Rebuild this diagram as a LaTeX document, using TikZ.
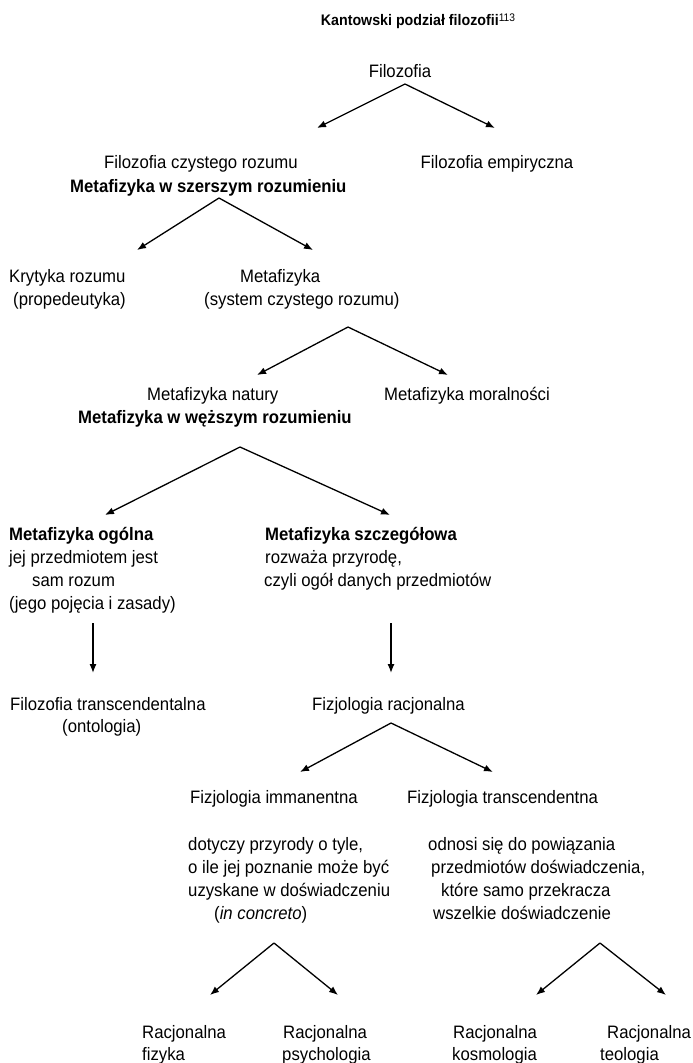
\documentclass[tikz,border=0pt]{standalone}
\usepackage{fontspec}
\setmainfont[FakeStretch=0.93]{Liberation Sans}
\usepackage{tikz}
\usetikzlibrary{arrows.meta}

\tikzset{
  txt/.style={anchor=base west, inner sep=0pt, font=\fontsize{18}{22}\selectfont},
  bld/.style={txt, font=\fontsize{18}{22}\selectfont\bfseries},
  arr/.style={-{Latex[length=9pt,width=7pt]}, line width=1.3pt}
}

\begin{document}
\begin{tikzpicture}[x=1pt,y=-1pt]
    \useasboundingbox (0,0) rectangle (693,1063);

    % Title
    \node[anchor=base, inner sep=0pt] (title) at (418,25)
        {\fontsize{15.3}{18}\selectfont\bfseries Kantowski podział filozofii\raisebox{0.42ex}{\fontsize{11}{11}\selectfont\mdseries 113}};

    % Filozofia
    \node[txt, anchor=base] (filo) at (400,77) {Filozofia};
    \coordinate (s1) at (405,84);
    \coordinate (t1l) at (317,128);
    \coordinate (t1r) at (495,128);
    \draw[arr] (s1) -- (t1l);
    \draw[arr] (s1) -- (t1r);

    \node[txt] (czysty) at (104,168) {Filozofia czystego rozumu};
    \node[bld] (szersze) at (70,192) {Metafizyka w szerszym rozumieniu};
    \node[txt, anchor=base] (empir) at (497,168) {Filozofia empiryczna};

    % Metafizyka w szerszym rozumieniu
    \coordinate (s2) at (219,198);
    \coordinate (t2l) at (137,250);
    \coordinate (t2r) at (313,250);
    \draw[arr] (s2) -- (t2l);
    \draw[arr] (s2) -- (t2r);

    \node[txt] (kryt) at (9,282) {Krytyka rozumu};
    \node[txt] (prop) at (13,305) {(propedeutyka)};
    \node[txt] (meta) at (240,282) {Metafizyka};
    \node[txt] (system) at (204,305) {(system czystego rozumu)};

    % Metafizyka
    \coordinate (s3) at (348,327);
    \coordinate (t3l) at (257,375);
    \coordinate (t3r) at (448,375);
    \draw[arr] (s3) -- (t3l);
    \draw[arr] (s3) -- (t3r);

    \node[txt] (natury) at (147,400) {Metafizyka natury};
    \node[bld] (wezsze) at (78,423) {Metafizyka w węższym rozumieniu};
    \node[txt] (moral) at (384,400) {Metafizyka moralności};

    % Metafizyka natury
    \coordinate (s4) at (240,447);
    \coordinate (t4l) at (105,515);
    \coordinate (t4r) at (390,515);
    \draw[arr] (s4) -- (t4l);
    \draw[arr] (s4) -- (t4r);

    \node[bld] (ogolna) at (9,540) {Metafizyka ogólna};
    \node[txt] (og2) at (9,563) {jej przedmiotem jest};
    \node[txt] (og3) at (32,586) {sam rozum};
    \node[txt] (og4) at (9,609) {(jego pojęcia i zasady)};

    \node[bld] (szczeg) at (265,540) {Metafizyka szczegółowa};
    \node[txt] (sz2) at (265,563) {rozważa przyrodę,};
    \node[txt] (sz3) at (264,586) {czyli ogół danych przedmiotów};

    \coordinate (v1) at (93,623);
    \coordinate (v1e) at (93,673);
    \coordinate (v2) at (391,623);
    \coordinate (v2e) at (391,673);
    \draw[arr] (v1) -- (v1e);
    \draw[arr] (v2) -- (v2e);

    \node[txt] (transc) at (10,710) {Filozofia transcendentalna};
    \node[txt] (onto) at (62,732) {(ontologia)};
    \node[txt] (fizrac) at (312,710) {Fizjologia racjonalna};

    % Fizjologia racjonalna
    \coordinate (s5) at (391,723);
    \coordinate (t5l) at (300,772);
    \coordinate (t5r) at (493,772);
    \draw[arr] (s5) -- (t5l);
    \draw[arr] (s5) -- (t5r);

    \node[txt] (immanent) at (190,803) {Fizjologia immanentna};
    \node[txt] (transcend) at (407,803) {Fizjologia transcendentna};

    \node[txt] (im1) at (188,850) {dotyczy przyrody o tyle,};
    \node[txt] (im2) at (188,873) {o ile jej poznanie może być};
    \node[txt] (im3) at (188,896) {uzyskane w doświadczeniu};
    \node[txt] (im4) at (214,919) {(\textit{in concreto})};

    \node[txt] (tr1) at (428,850) {odnosi się do powiązania};
    \node[txt] (tr2) at (431,873) {przedmiotów doświadczenia,};
    \node[txt] (tr3) at (441,896) {które samo przekracza};
    \node[txt] (tr4) at (433,919) {wszelkie doświadczenie};

    % Racjonalne
    \coordinate (s6) at (274,943);
    \coordinate (t6l) at (210,995);
    \coordinate (t6r) at (338,995);
    \draw[arr] (s6) -- (t6l);
    \draw[arr] (s6) -- (t6r);
    \coordinate (s7) at (600,943);
    \coordinate (t7l) at (536,995);
    \coordinate (t7r) at (666,995);
    \draw[arr] (s7) -- (t7l);
    \draw[arr] (s7) -- (t7r);

    \node[txt] (fiz1) at (142,1038) {Racjonalna};
    \node[txt] (fiz2) at (142,1060) {fizyka};
    \node[txt] (psy1) at (283,1038) {Racjonalna};
    \node[txt] (psy2) at (282,1060) {psychologia};
    \node[txt] (kos1) at (453,1038) {Racjonalna};
    \node[txt] (kos2) at (452,1060) {kosmologia};
    \node[txt] (teo1) at (607,1038) {Racjonalna};
    \node[txt] (teo2) at (600,1060) {teologia};
\end{tikzpicture}
\end{document}
